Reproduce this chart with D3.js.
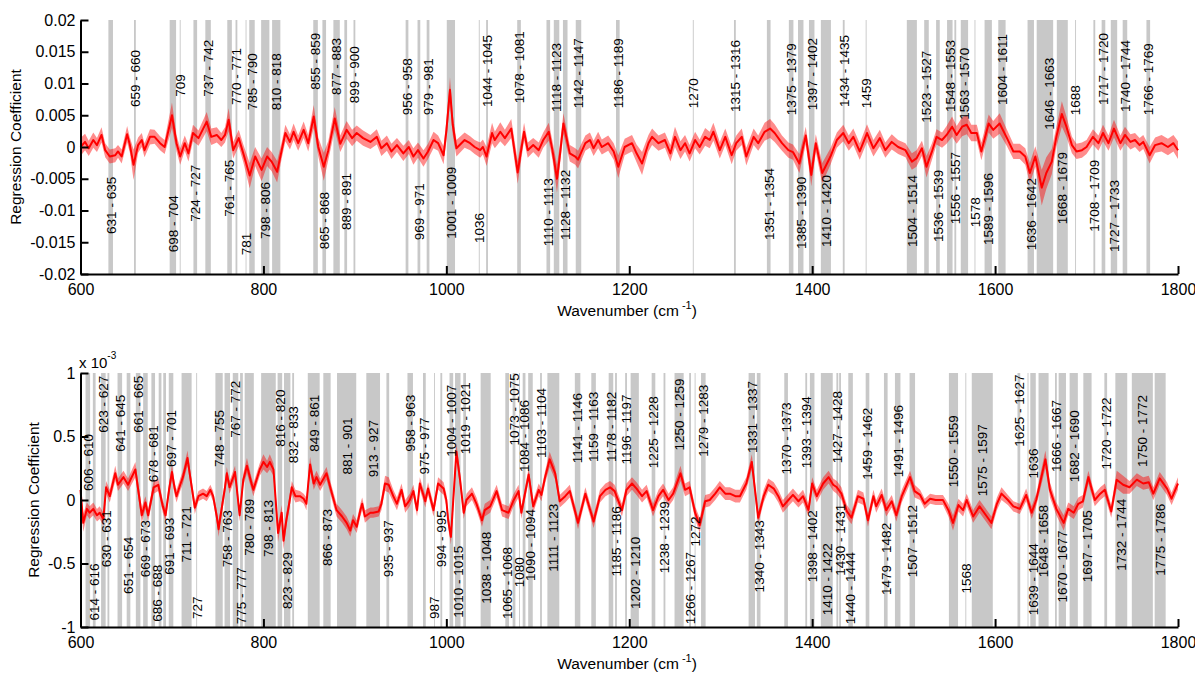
<!DOCTYPE html>
<html><head><meta charset="utf-8">
<script src="https://cdn.jsdelivr.net/npm/d3@7/dist/d3.min.js"></script>
<style>body{margin:0;background:#fff}svg{display:block}text{font-family:"Liberation Sans",Arial,sans-serif}</style>
</head><body>
<script>
// ---------------- DATA ----------------
const xTicks = [600, 800, 1000, 1200, 1400, 1600, 1800];
// top panel values are in units of 1e-3
const topYTicks = [-20, -15, -10, -5, 0, 5, 10, 15, 20];
const topYTickLabels = ["-0.02", "-0.015", "-0.01", "-0.005", "0", "0.005", "0.01", "0.015", "0.02"];
const botYTicks = [-1, -0.5, 0, 0.5, 1];
const botYTickLabels = ["-1", "-0.5", "0", "0.5", "1"];

// [wavenumber, mean coefficient, half-width of shaded spread]
const topSpectrum = [[600,0,1.4],[605,0.8,1.3],[609,-0.2,1.2],[614,1.1,1.2],[618,0.3,1.1],[623,1.9,1.2],[627,-0.5,1.1],[632,-1.5,1.1],[638,-1.3,1.1],[641,-0.7,1.0],[645,-1.5,1.1],[651,2.0,1.3],[654,0.3,1.2],[658,-2.8,2.4],[663,0.3,1.2],[667,1.1,1.1],[670,-0.5,1.1],[676,1.6,1.2],[681,1.6,1.1],[687,0.6,1.1],[692,0,1.1],[700,5.0,2.0],[705,0.6,1.3],[709,-1.5,1.3],[714,0.6,1.2],[718,-1.0,1.3],[723,2.2,1.3],[729,1.4,1.2],[738,4.0,1.5],[743,1.6,1.3],[749,1.9,1.2],[754,1.1,1.1],[758,1.9,1.2],[762,4.3,1.8],[767,-0.5,1.3],[773,1.4,1.3],[778,-1.0,1.4],[785,-4.5,2.0],[791,-1.5,1.5],[798,-3.6,1.8],[804,-1.5,1.5],[809,-2.3,1.5],[815,-3.9,1.7],[820,-0.5,1.3],[824,2.2,1.3],[829,0.8,1.2],[833,2.4,1.3],[838,0.6,1.2],[844,2.7,1.3],[849,0.6,1.3],[855,4.8,1.8],[860,0,1.5],[866,-3.1,2.2],[871,-0.5,1.5],[878,4.5,1.8],[884,0.5,1.3],[891,2.7,1.4],[897,1.4,1.3],[902,2.2,1.2],[909,1.4,1.2],[917,0.8,1.1],[924,1.6,1.2],[929,-0.2,1.2],[935,0.6,1.2],[940,-0.7,1.2],[946,0.3,1.1],[953,-1.0,1.2],[959,0,1.1],[964,-1.5,1.3],[969,-0.5,1.2],[975,-1.8,1.3],[980,-0.7,1.2],[986,1.1,1.3],[991,0.6,1.2],[997,-1.3,1.4],[1000,2.5,1.6],[1004,9.0,2.0],[1007,3.5,1.6],[1011,-0.2,1.3],[1020,1.1,1.2],[1026,0.6,1.1],[1031,0,1.1],[1037,-0.5,1.2],[1040,0,1.2],[1044,-1.5,1.5],[1050,2.2,1.6],[1053,1.1,1.3],[1059,2.4,1.5],[1064,1.4,1.3],[1071,2.9,1.5],[1078,-4.0,1.8],[1085,2.4,1.4],[1089,-0.5,1.2],[1095,0.3,1.1],[1101,-0.5,1.2],[1106,1.1,1.2],[1112,2.4,1.4],[1116,-0.5,1.5],[1121,-5.0,2.2],[1124,-1.5,1.7],[1128,3.7,1.6],[1135,-1.0,1.3],[1141,-1.5,1.3],[1144,-2.0,1.4],[1152,0.6,1.2],[1157,1.1,1.2],[1161,-0.2,1.2],[1166,1.1,1.3],[1170,0,1.2],[1177,0.6,1.2],[1183,-0.7,1.3],[1188,-3.1,1.8],[1195,0,1.3],[1203,0.6,1.3],[1208,-1.0,1.4],[1214,-2.6,1.8],[1221,0.6,1.3],[1225,1.6,1.3],[1232,0.6,1.2],[1239,1.1,1.2],[1245,-1.0,1.3],[1250,1.6,1.6],[1256,-0.5,1.4],[1261,0.6,1.3],[1266,-1.0,1.3],[1272,1.1,1.3],[1277,0,1.2],[1283,1.6,1.4],[1288,1.1,1.3],[1292,2.4,1.4],[1299,-0.5,1.3],[1305,1.6,1.3],[1312,-1.3,1.4],[1317,0.6,1.2],[1323,1.6,1.3],[1328,-1.5,1.4],[1336,1.6,1.3],[1341,0.6,1.2],[1348,2.4,1.4],[1354,2.9,1.5],[1359,2.2,1.4],[1367,0.6,1.2],[1374,-0.5,1.2],[1379,-0.8,1.2],[1386,-2.6,1.5],[1393,1.8,1.4],[1399,-4.4,1.8],[1404,0.6,1.4],[1411,-4.1,1.6],[1420,-1.5,1.3],[1427,1.1,1.2],[1434,2.2,1.3],[1440,0.6,1.2],[1445,1.6,1.3],[1452,-0.7,1.3],[1460,2.2,1.4],[1467,-0.2,1.3],[1474,1.4,1.3],[1480,-0.5,1.2],[1487,0.8,1.2],[1494,0,1.1],[1502,-0.5,1.1],[1509,-2.3,1.3],[1514,-1.8,1.3],[1520,-0.2,1.2],[1525,-3.1,1.7],[1531,-0.7,1.3],[1536,1.6,1.2],[1542,1.1,1.2],[1547,1.9,1.4],[1553,3.2,1.6],[1558,1.9,1.4],[1564,3.2,1.5],[1569,3.5,1.5],[1574,2.2,1.3],[1580,2.2,1.3],[1585,-0.7,1.4],[1593,3.7,1.4],[1598,2.7,1.4],[1605,3.7,1.6],[1613,1.4,1.3],[1620,-0.7,1.2],[1627,-0.7,1.2],[1633,-1.5,1.3],[1638,-4.1,1.6],[1644,-1.5,1.6],[1651,-6.4,2.8],[1656,-4.1,2.5],[1662,-2.3,2.0],[1667,1.6,1.6],[1673,5.2,2.0],[1678,3.2,1.6],[1684,0.3,1.3],[1689,-0.7,1.2],[1695,-0.5,1.2],[1700,0,1.1],[1707,1.6,1.2],[1713,0.6,1.2],[1718,2.2,1.3],[1724,0.6,1.2],[1730,2.9,1.4],[1737,0.6,1.2],[1742,1.9,1.3],[1748,0.8,1.2],[1753,1.1,1.1],[1758,0.3,1.1],[1762,0.8,1.1],[1769,-1.3,1.3],[1775,0.3,1.2],[1782,0.6,1.3],[1789,0,1.3],[1795,0.6,1.3],[1800,-0.5,1.4]];

const botSpectrum = [[600,0.08,0.07],[603,-0.18,0.07],[607,-0.07,0.05],[610,-0.1,0.05],[614,-0.07,0.05],[618,-0.12,0.05],[621,-0.1,0.05],[625,-0.15,0.05],[628,0.1,0.05],[632,0.03,0.05],[638,0.21,0.06],[641,0.12,0.05],[647,0.18,0.05],[652,0.12,0.05],[660,0.24,0.06],[667,-0.12,0.06],[671,-0.02,0.05],[674,-0.12,0.05],[680,0.1,0.05],[685,0.12,0.05],[690,-0.05,0.05],[693,-0.12,0.05],[697,0.09,0.05],[700,0.22,0.06],[703,0.09,0.05],[705,0.03,0.05],[709,0.12,0.05],[712,0.18,0.05],[717,0.33,0.06],[720,0.18,0.05],[725,-0.06,0.05],[729,0.03,0.04],[734,0.05,0.04],[738,0.03,0.04],[742,0.08,0.04],[745,0.03,0.04],[749,-0.13,0.05],[751,-0.23,0.06],[753,-0.13,0.05],[758,0.1,0.05],[760,0.21,0.05],[763,0.1,0.05],[769,0.22,0.05],[774,-0.12,0.05],[778,0.16,0.05],[782,0.27,0.06],[787,0.13,0.05],[789,0.08,0.05],[796,0.24,0.05],[800,0.3,0.06],[804,0.26,0.05],[807,0.3,0.06],[811,0.24,0.05],[816,-0.26,0.07],[820,-0.1,0.06],[822,-0.32,0.07],[825,-0.16,0.06],[827,-0.08,0.05],[831,0.1,0.05],[835,0.03,0.05],[840,0.03,0.04],[844,0.01,0.04],[847,-0.03,0.05],[851,0.28,0.06],[855,0.13,0.05],[858,0.18,0.05],[862,0.12,0.05],[869,0.21,0.05],[875,0.05,0.05],[880,-0.08,0.05],[886,-0.13,0.05],[891,-0.18,0.05],[895,-0.24,0.05],[898,-0.16,0.05],[902,-0.21,0.05],[906,-0.08,0.05],[908,-0.03,0.05],[911,-0.13,0.05],[917,-0.1,0.04],[920,-0.1,0.04],[926,-0.09,0.04],[929,-0.03,0.05],[933,0.13,0.06],[937,0.12,0.06],[942,0.03,0.05],[946,-0.03,0.05],[951,0.08,0.05],[955,-0.05,0.05],[960,0,0.05],[964,0.07,0.05],[968,-0.08,0.05],[971,0.13,0.05],[977,-0.01,0.05],[980,0.09,0.05],[986,-0.08,0.05],[991,0.13,0.05],[997,0.09,0.05],[1000,0,0.05],[1002,-0.16,0.06],[1005,-0.29,0.06],[1011,0.38,0.07],[1015,0.16,0.06],[1019,-0.1,0.05],[1022,0,0.05],[1028,0.05,0.05],[1033,-0.03,0.05],[1039,-0.16,0.05],[1042,-0.08,0.05],[1048,-0.05,0.05],[1055,0.07,0.05],[1061,-0.08,0.05],[1068,-0.1,0.05],[1073,-0.01,0.05],[1079,0.07,0.05],[1082,-0.1,0.05],[1090,0.2,0.05],[1095,-0.05,0.05],[1101,0.08,0.05],[1104,0.04,0.05],[1108,0.18,0.05],[1113,0.32,0.06],[1119,0.21,0.05],[1124,-0.01,0.05],[1130,0.03,0.05],[1135,0.07,0.05],[1144,-0.18,0.05],[1152,0.05,0.05],[1161,-0.17,0.05],[1168,0.03,0.05],[1174,0.08,0.05],[1179,0.1,0.05],[1184,0.07,0.05],[1192,-0.08,0.05],[1197,0.08,0.05],[1203,0.13,0.05],[1208,0.09,0.05],[1214,0.03,0.05],[1219,0.07,0.05],[1226,-0.08,0.05],[1232,0.03,0.05],[1237,0.08,0.05],[1243,0,0.05],[1248,0.05,0.05],[1256,0.21,0.06],[1261,0.08,0.05],[1266,0.1,0.05],[1272,-0.1,0.05],[1277,-0.2,0.06],[1283,-0.01,0.05],[1288,0,0.05],[1294,0.05,0.05],[1299,0.1,0.05],[1305,0.05,0.05],[1310,0.05,0.05],[1316,0.03,0.05],[1321,0.03,0.05],[1328,0.13,0.05],[1334,0.3,0.06],[1341,-0.14,0.05],[1347,0.03,0.05],[1352,0.12,0.05],[1358,0.09,0.05],[1363,0.03,0.05],[1368,-0.05,0.05],[1374,0,0.05],[1379,0.04,0.05],[1385,-0.01,0.05],[1390,0.03,0.05],[1396,-0.08,0.05],[1400,0.13,0.05],[1405,0.03,0.05],[1412,0.13,0.05],[1418,0.18,0.05],[1423,0.12,0.05],[1427,0.1,0.05],[1432,0.05,0.05],[1438,-0.09,0.05],[1443,-0.14,0.05],[1450,0.03,0.05],[1456,0.01,0.05],[1461,-0.16,0.05],[1467,0.03,0.05],[1470,-0.05,0.05],[1476,0.04,0.05],[1481,-0.08,0.05],[1487,-0.01,0.05],[1492,-0.12,0.05],[1498,0.03,0.05],[1507,0.18,0.05],[1512,0.07,0.05],[1518,0.04,0.04],[1523,-0.03,0.04],[1529,0.01,0.04],[1535,0,0.04],[1543,0,0.04],[1549,-0.08,0.05],[1554,-0.18,0.06],[1560,-0.04,0.05],[1565,-0.08,0.05],[1569,0,0.05],[1576,-0.13,0.05],[1583,-0.05,0.05],[1591,-0.13,0.05],[1596,-0.18,0.05],[1602,-0.03,0.05],[1607,0.05,0.05],[1614,0,0.04],[1620,-0.05,0.04],[1627,-0.07,0.04],[1634,0.04,0.05],[1640,-0.1,0.05],[1645,0,0.05],[1655,0.32,0.07],[1660,0.08,0.06],[1667,-0.07,0.05],[1675,-0.18,0.06],[1680,-0.07,0.05],[1686,-0.1,0.05],[1691,-0.03,0.05],[1696,-0.01,0.05],[1702,0.18,0.05],[1709,0,0.05],[1715,0.05,0.05],[1720,0.08,0.05],[1727,-0.09,0.05],[1733,0.16,0.07],[1740,0.12,0.07],[1747,0.1,0.05],[1755,0.16,0.05],[1762,0.13,0.05],[1768,0.14,0.05],[1773,0.05,0.05],[1780,0.17,0.05],[1788,0.09,0.05],[1793,0.01,0.05],[1800,0.13,0.05]];

// selected wavenumber ranges: [from, to, label side, label anchor value, optional label wavenumber]
const topBands = [[631,635,"b",-4.7],[659,660,"t",6.3],[698,704,"b",-7.6],[709,709,"t",7.9],[724,727,"b",-2.8],[737,742,"t",7.9],[761,765,"b",-2.0],[770,771,"t",6.6],[781,781,"b",-13.5],[785,790,"t",5.8],[798,806,"b",-5.5],[810,818,"t",5.8],[855,859,"t",9.0],[865,868,"b",-7.1],[877,883,"t",8.2],[889,891,"b",-4.1],[899,900,"t",6.9],[956,958,"t",5.0],[969,971,"b",-5.7],[979,981,"t",5.0],[1001,1009,"b",-3.1],[1036,1036,"b",-10.4],[1044,1045,"t",6.3],[1078,1081,"t",6.9],[1110,1113,"b",-4.9],[1118,1123,"t",5.5],[1128,1132,"b",-3.6],[1142,1147,"t",6.1],[1186,1189,"t",6.1],[1270,1270,"t",6.1],[1315,1316,"t",5.5],[1351,1354,"b",-3.3],[1375,1379,"t",5.0],[1385,1390,"b",-4.7],[1397,1402,"t",5.8],[1410,1420,"b",-4.4],[1434,1435,"t",6.3],[1459,1459,"t",6.1],[1504,1514,"b",-4.4],[1523,1527,"t",3.8],[1536,1539,"b",-3.6],[1548,1553,"t",5.5],[1556,1557,"b",-0.8],[1563,1570,"t",4.3],[1578,1578,"b",-7.9],[1589,1596,"b",-4.1],[1604,1611,"t",6.6],[1636,1642,"b",-4.9],[1646,1663,"t",2.7,1659],[1668,1679,"b",-0.8],[1688,1688,"t",5.0],[1708,1709,"b",-2.0],[1717,1720,"t",6.6],[1727,1733,"b",-5.2],[1740,1744,"t",5.5],[1766,1769,"t",5.0]];

const botBands = [[606,610,"t",0.07],[614,616,"b",-0.5],[623,627,"t",0.53],[630,631,"b",-0.08,628],[641,645,"t",0.38],[651,654,"b",-0.29],[661,665,"t",0.53],[669,673,"b",-0.16],[678,681,"t",0.14],[686,688,"b",-0.51,684],[691,693,"b",-0.14,697],[697,701,"t",0.26],[711,721,"b",-0.05],[727,727,"b",-0.76],[748,755,"t",0.26],[758,763,"b",-0.08],[767,772,"t",0.49],[775,777,"b",-0.53],[780,789,"b",0.01],[798,813,"b",0],[816,820,"t",0.42],[823,829,"b",-0.41],[832,833,"t",0.29],[849,861,"t",0.38],[866,873,"b",-0.07],[881,901,"t",0.2],[913,927,"t",0.18],[935,937,"b",-0.16],[958,963,"t",0.38],[975,977,"t",0.2],[987,987,"b",-0.76],[994,995,"b",-0.08],[1004,1007,"t",0.34],[1010,1015,"b",-0.36],[1019,1021,"t",0.36],[1038,1048,"b",-0.25],[1065,1068,"b",-0.37],[1073,1075,"t",0.43],[1080,1080,"b",-0.45],[1084,1086,"t",0.22],[1090,1094,"b",-0.07],[1103,1104,"t",0.33],[1111,1123,"b",-0.03],[1141,1146,"t",0.29],[1159,1163,"t",0.3],[1178,1182,"t",0.3],[1185,1186,"b",-0.05],[1196,1197,"t",0.28],[1202,1210,"b",-0.29],[1225,1228,"t",0.25],[1238,1239,"b",-0.01],[1250,1259,"t",0.39],[1266,1267,"b",-0.41],[1272,1272,"b",-0.13],[1279,1283,"t",0.34],[1331,1337,"t",0.37],[1340,1343,"b",-0.16],[1370,1373,"t",0.2],[1393,1394,"t",0.25],[1398,1402,"b",-0.08],[1410,1422,"b",-0.34],[1427,1428,"t",0.29],[1430,1431,"b",-0.03],[1440,1444,"b",-0.41],[1459,1462,"t",0.16],[1479,1482,"b",-0.18],[1491,1496,"t",0.18],[1507,1512,"b",-0.04],[1550,1559,"t",0.1],[1568,1568,"b",-0.5],[1575,1597,"t",0.03],[1625,1627,"t",0.42],[1636,1636,"t",0.17,1642],[1639,1644,"b",-0.34],[1648,1658,"b",-0.04],[1666,1667,"t",0.22],[1670,1677,"b",-0.24],[1682,1690,"t",0.14],[1697,1705,"b",-0.08],[1720,1722,"t",0.24],[1732,1744,"b",0.01],[1750,1772,"t",0.26],[1775,1786,"b",-0.03]];

// ---------------- DRAW ----------------
const W = 1195, H = 674;
const svg = d3.select("body").append("svg").attr("width", W).attr("height", H);
const x = d3.scaleLinear().domain([600, 1800]).range([80.5, 1178]);

function drawPanel(cfg) {
  const y = d3.scaleLinear().domain(cfg.domain).range([cfg.bottom, cfg.top]);
  const g = svg.append("g");

  // bands
  g.selectAll("rect.band").data(cfg.bands).join("rect")
    .attr("x", d => x(d[0] - 0.5))
    .attr("width", d => x(d[1] + 0.5) - x(d[0] - 0.5))
    .attr("y", cfg.top).attr("height", cfg.bottom - cfg.top)
    .attr("fill", "#c8c8c8");

  // spread
  const area = d3.area().x(d => x(d[0])).y0(d => y(d[1] - d[2])).y1(d => y(d[1] + d[2]));
  g.append("path").datum(cfg.spectrum).attr("d", area)
    .attr("fill", "#ff0000").attr("fill-opacity", 0.45);
  const line = d3.line().x(d => x(d[0])).y(d => y(d[1]));
  g.append("path").datum(cfg.spectrum).attr("d", line)
    .attr("fill", "none").attr("stroke", "#ff0000").attr("stroke-width", 2).attr("stroke-linejoin", "round");

  // band labels
  g.selectAll("text.bl").data(cfg.bands).join("text")
    .attr("transform", d => {
      const lx = d.length > 4 ? d[4] : (d[0] + d[1]) / 2;
      return `translate(${x(lx)},${y(d[3])}) rotate(-90)`;
    })
    .attr("text-anchor", d => d[2] === "t" ? "start" : "end")
    .attr("dy", "0.36em")
    .attr("font-size", 13.5)
    .attr("fill", "#000")
    .text(d => d[0] === d[1] ? `${d[0]}` : `${d[0]} - ${d[1]}`);

  // axes
  const yAx = d3.axisLeft(y).tickValues(cfg.yTicks)
    .tickFormat((v, i) => cfg.yTickLabels[i]).tickSizeInner(-8).tickSizeOuter(0).tickPadding(5);
  const ga = g.append("g").attr("transform", `translate(${x(600)},0)`).call(yAx);
  const xAx = d3.axisBottom(x).tickValues(xTicks).tickFormat(d3.format("d"))
    .tickSizeInner(-8).tickSizeOuter(0).tickPadding(7);
  const gb = g.append("g").attr("transform", `translate(0,${cfg.bottom})`).call(xAx);
  [ga, gb].forEach(a => {
    a.select(".domain").attr("stroke", "#000").attr("stroke-width", 2);
    a.selectAll(".tick line").attr("stroke", "#000").attr("stroke-width", 2);
    a.selectAll(".tick text").attr("font-size", 16).attr("fill", "#000")
      .style("font-family", '"Liberation Sans",Arial,sans-serif');
  });
  gb.selectAll(".tick text").attr("dy", "0.9em");

  // titles
  const xt = g.append("text").attr("x", 627).attr("y", cfg.bottom + 42)
    .attr("text-anchor", "middle").attr("font-size", 15.5);
  xt.append("tspan").text("Wavenumber (cm");
  xt.append("tspan").attr("dy", -7).attr("font-size", 11).text(" -1");
  xt.append("tspan").attr("dy", 7).text(")");
  g.append("text")
    .attr("transform", `translate(${cfg.yTitleX},${(cfg.top + cfg.bottom) / 2}) rotate(-90)`)
    .attr("text-anchor", "middle").attr("font-size", 15.5).text("Regression Coefficient");
  return y;
}

drawPanel({domain: [-20, 20], top: 20, bottom: 274, spectrum: topSpectrum, bands: topBands,
  yTicks: topYTicks, yTickLabels: topYTickLabels, yTitleX: 21});
drawPanel({domain: [-1, 1], top: 373, bottom: 627, spectrum: botSpectrum, bands: botBands,
  yTicks: botYTicks, yTickLabels: botYTickLabels, yTitleX: 39});

const mult = svg.append("text").attr("x", 79).attr("y", 368).attr("font-size", 15);
mult.append("tspan").text("x 10");
mult.append("tspan").attr("dy", -9).attr("font-size", 10).text("-3");
</script>
</body></html>
